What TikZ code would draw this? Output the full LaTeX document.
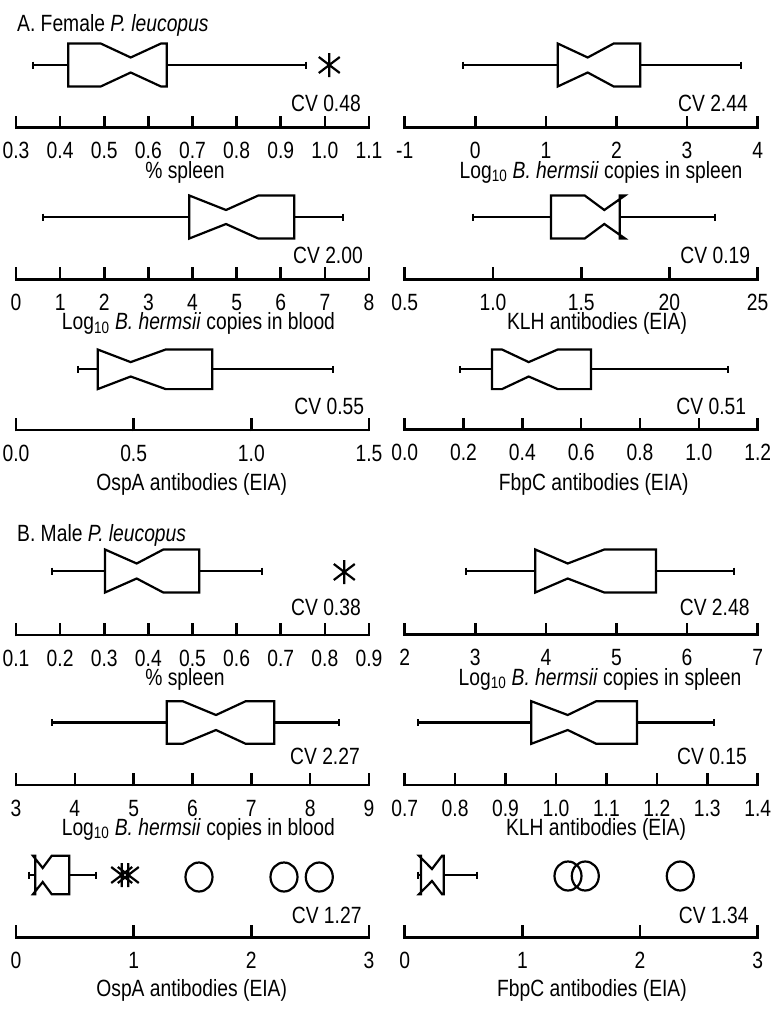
\documentclass[tikz,border=0pt]{standalone}
\usepackage{fontspec}
\setmainfont{Liberation Sans}[FakeStretch=0.82]
\newcommand\fs{\fontsize{23.5}{27}\selectfont}
\tikzset{
 axl/.style={line width=2.6pt},
 bx/.style={line width=2.2pt, line join=miter},
 tl/.style={anchor=base, inner sep=0pt, font=\fs, text height=16.8pt, text depth=0pt},
 cvl/.style={anchor=base east, inner sep=0pt, font=\fs, text height=16.8pt, text depth=0pt},
 ttl/.style={anchor=base, inner sep=0pt, font=\fs, text height=16.8pt, text depth=4pt},
 hd/.style={anchor=base west, inner sep=0pt, font=\fs, text height=16.8pt, text depth=4pt},
}
% x0, y, spacing, labels, name prefix
\newcommand\Axis[5]{%
  \draw[axl] (#1,#2) -- ({#1+353},#2);
  \foreach \l [count=\c from 0] in {#4}{
    \draw[axl] ({#1+\c*#3},{#2+1.3}) -- ({#1+\c*#3},{#2-12});
    \node[tl] (#5-\c) at ({#1+\c*#3},{#2+31}) {\l};
  }}
% y wl q1 q3 wr
\newcommand\Whisk[5]{%
  \draw[bx] (#2,#1) -- (#3,#1) (#4,#1) -- (#5,#1);
  \draw[bx] (#2,{#1-3.5}) -- (#2,{#1+3.5}) (#5,{#1-3.5}) -- (#5,{#1+3.5});}
% y h d q1 nl med nr q3
\newcommand\Notch[8]{%
  \draw[bx] (#4,{#1-#2}) -- (#5,{#1-#2}) -- (#6,{#1-#3}) -- (#7,{#1-#2}) -- (#8,{#1-#2})
    -- (#8,{#1+#2}) -- (#7,{#1+#2}) -- (#6,{#1+#3}) -- (#5,{#1+#2}) -- (#4,{#1+#2}) -- cycle;}
\newcommand\Ast[2]{%
  \draw[bx, line join=round] (#1,{#2-12}) -- (#1,{#2+12}) ({#1-10.5},{#2-8}) -- ({#1+10.5},{#2+8}) ({#1-10.5},{#2+8}) -- ({#1+10.5},{#2-8});}
\newcommand\Circ[2]{\draw[bx] (#1,#2) ellipse [x radius=13.5, y radius=14.5];}
\newcommand\logb{Log\textsubscript{10} \textit{B. hermsii}}
\begin{document}
\begin{tikzpicture}[x=1pt,y=-1pt]
\useasboundingbox (0,0) rectangle (784,1018);
% ---------- A ----------
\node[hd] (titA) at (17,31.7) {A. Female \textit{P. leucopus}};
% A1 left
\Whisk{65}{33}{68.3}{166.7}{306}
\Notch{65}{21.5}{7.5}{68.3}{100.7}{130.7}{161}{166.7}
\Ast{329.3}{65}
\node[cvl] (cvA1l) at (361,111.7) {CV 0.48};
\Axis{16}{127.7}{44.125}{0.3,0.4,0.5,0.6,0.7,0.8,0.9,1.0,1.1}{a1l}
\node[ttl] (tA1l) at (185,178) {\% spleen};
% A1 right
\Whisk{65}{463}{557.7}{640.3}{741}
\Notch{65}{21.5}{7.5}{557.7}{557.7}{587.7}{613.7}{640.3}
\node[cvl] (cvA1r) at (748,111.7) {CV 2.44};
\Axis{404.7}{127.7}{70.6}{-1,0,1,2,3,4}{a1r}
\node[ttl] (tA1r) at (601,178) {\logb{} copies in spleen};
% A2 left
\Whisk{217}{42.7}{189.3}{294.3}{342.7}
\Notch{217}{21.5}{7}{189.3}{189.3}{226}{258.3}{294.3}
\node[cvl] (cvA2l) at (363,263.3) {CV 2.00};
\Axis{16}{279.3}{44.125}{0,1,2,3,4,5,6,7,8}{a2l}
\node[ttl] (tA2l) at (198.5,329.5) {\logb{} copies in blood};
% A2 right
\Whisk{217}{473}{551}{619.7}{714.7}
\Notch{217}{21.5}{7}{551}{584.7}{604.3}{625}{619.7}
\node[cvl] (cvA2r) at (750.3,263.3) {CV 0.19};
\Axis{404.7}{279.3}{88.25}{0.5,1.0,1.5,20,25}{a2r}
\node[ttl] (tA2r) at (597,329.5) {KLH antibodies (EIA)};
% A3 left
\Whisk{369.3}{78.3}{97.7}{212.3}{333.3}
\Notch{369.3}{19.8}{7.2}{97.7}{97.7}{130.7}{165.7}{212.3}
\node[cvl] (cvA3l) at (364.3,414) {CV 0.55};
\Axis{16}{430}{117.67}{0.0,0.5,1.0,1.5}{a3l}
\node[ttl] (tA3l) at (191.7,490) {OspA antibodies (EIA)};
% A3 right
\Whisk{369.3}{460.3}{492}{591}{728}
\Notch{369.3}{19.8}{7.2}{492}{502}{528.7}{557.7}{591}
\node[cvl] (cvA3r) at (746.3,414) {CV 0.51};
\Axis{404.7}{429.5}{58.83}{0.0,0.2,0.4,0.6,0.8,1.0,1.2}{a3r}
\node[ttl] (tA3r) at (593.7,490) {FbpC antibodies (EIA)};
% ---------- B ----------
\node[hd] (titB) at (17,541.7) {B. Male \textit{P. leucopus}};
% B1 left
\Whisk{571}{52.3}{105}{199.3}{261.7}
\Notch{571}{21.5}{7.5}{105}{105}{136.7}{163.3}{199.3}
\Ast{344.3}{572}
\node[cvl] (cvB1l) at (361,615.5) {CV 0.38};
\Axis{16}{635}{44.125}{0.1,0.2,0.3,0.4,0.5,0.6,0.7,0.8,0.9}{b1l}
\node[ttl] (tB1l) at (185,685) {\% spleen};
% B1 right
\Whisk{571}{466.3}{535.3}{656}{734.3}
\Notch{571}{21.5}{7.5}{535.3}{535.3}{567.7}{604.3}{656}
\node[cvl] (cvB1r) at (749.7,615.5) {CV 2.48};
\Axis{404.7}{634.5}{70.6}{2,3,4,5,6,7}{b1r}
\node[ttl] (tB1r) at (600,685) {\logb{} copies in spleen};
% B2 left
\Whisk{722.5}{52.3}{166.7}{274.3}{339.3}
\Notch{722.5}{21.3}{7.5}{166.7}{182.7}{216}{245.7}{274.3}
\node[cvl] (cvB2l) at (360,764.5) {CV 2.27};
\Axis{16}{785}{58.83}{3,4,5,6,7,8,9}{b2l}
\node[ttl] (tB2l) at (198.3,835) {\logb{} copies in blood};
% B2 right
\Whisk{722.5}{417.7}{531.3}{637}{714.3}
\Notch{722.5}{21.3}{7.5}{531.3}{531.3}{567.7}{596.3}{637}
\node[cvl] (cvB2r) at (747,764.5) {CV 0.15};
\Axis{404.7}{785}{50.43}{0.7,0.8,0.9,1.0,1.1,1.2,1.3,1.4}{b2r}
\node[ttl] (tB2r) at (596,835) {KLH antibodies (EIA)};
% B3 left
\Whisk{875}{29.3}{35.3}{69.3}{95.7}
\Notch{875}{19.2}{7}{35.3}{33}{42.7}{51.7}{69.3}
\Ast{121.7}{875}
\Ast{128.3}{875}
\Circ{199}{877}
\Circ{284}{877}
\Circ{319.3}{877}
\node[cvl] (cvB3l) at (361.7,923.5) {CV 1.27};
\Axis{16}{937.3}{117.67}{0,1,2,3}{b3l}
\node[ttl] (tB3l) at (191.7,996) {OspA antibodies (EIA)};
% B3 right
\Whisk{875}{417.7}{421}{443.7}{477}
\Notch{875}{19.2}{6}{421}{419}{432}{442}{443.7}
\Circ{568}{876}
\Circ{585.3}{876}
\Circ{680.3}{876}
\node[cvl] (cvB3r) at (748.7,923.5) {CV 1.34};
\Axis{404.7}{937.3}{117.67}{0,1,2,3}{b3r}
\node[ttl] (tB3r) at (592,996) {FbpC antibodies (EIA)};
\end{tikzpicture}
\end{document}
